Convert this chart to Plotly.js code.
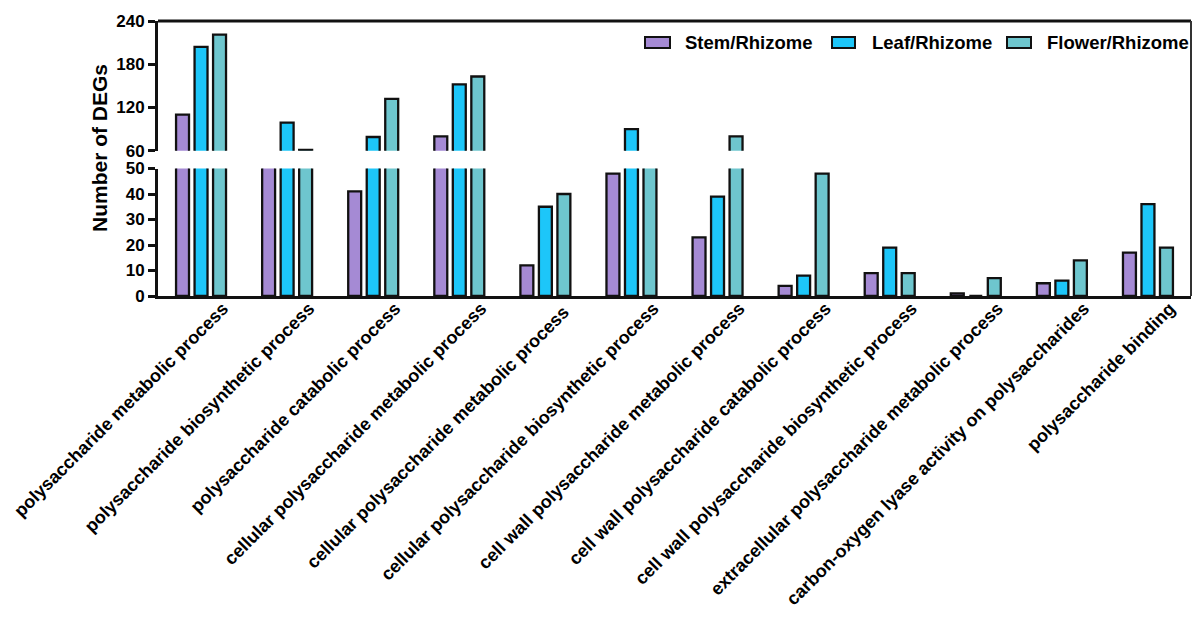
<!DOCTYPE html>
<html>
<head>
<meta charset="utf-8">
<script src="https://cdn.plot.ly/plotly-3.0.1.min.js"></script>
<style>html,body{margin:0;padding:0;background:#fff;}#chart{width:1193px;height:619px;}</style>
</head>
<body>
<div id="chart"></div>
<script>
const categories = [
  "polysaccharide metabolic process",
  "polysaccharide biosynthetic process",
  "polysaccharide catabolic process",
  "cellular polysaccharide metabolic process",
  "cellular polysaccharide metabolic process ",
  "cellular polysaccharide biosynthetic process",
  "cell wall polysaccharide metabolic process",
  "cell wall polysaccharide catabolic process",
  "cell wall polysaccharide biosynthetic process",
  "extracellular polysaccharide metabolic process",
  "carbon-oxygen lyase activity on polysaccharides",
  "polysaccharide binding"
];
const seriesNames = ["Stem/Rhizome", "Leaf/Rhizome", "Flower/Rhizome"];
const stem   = [110, 55, 41, 80, 12, 48, 23, 4, 9, 1, 5, 17];
const leaf   = [204, 99, 79, 152, 35, 90, 39, 8, 19, 0, 6, 36];
const flower = [221, 61, 132, 163, 40, 55, 80, 48, 9, 7, 14, 19];
const lowerTicks = [0, 10, 20, 30, 40, 50];
const upperTicks = [60, 120, 180, 240];
const yTitle = "Number of DEGs";

const colors = ["#a58ad4", "#1dc6f9", "#6ec6ce"];
const seriesValues = [stem, leaf, flower];

const W = 1193, H = 619;
const mL = 158, mR = 2, mT = 21, mB = 323;
const pw = W - mL - mR, ph = H - mT - mB;
const px2x = p => (p - mL) / pw;
const px2y = p => (H - mB - p) / ph;

const lowerTop = px2y(168.5);
const upperBottom = px2y(150.7);

const traces = [];
seriesValues.forEach((vals, i) => {
  ["y", "y2"].forEach(ya => {
    traces.push({
      type: "bar",
      name: seriesNames[i],
      x: categories,
      y: vals,
      xaxis: "x",
      yaxis: ya,
      showlegend: false,
      marker: {color: colors[i], line: {color: "#111", width: 2.3}},
      hoverinfo: "x+y+name"
    });
  });
});

const FAM = "Liberation Sans, Arial, sans-serif";
const tickFont = {family: FAM, size: 17, color: "#000", weight: "bold"};

const legendSym = [[645, 670], [832, 855], [1007, 1031]];
const legendText = [683, 870, 1045];
const shapes = [
  {type: "line", xref: "paper", yref: "paper", x0: 0, x1: 1, y0: 1, y1: 1, line: {color: "#111", width: 3}},
  {type: "line", xref: "paper", yref: "paper", x0: 1, x1: 1, y0: 0, y1: 1, line: {color: "#333", width: 2}}
];
const annotations = [{
  text: yTitle, xref: "paper", yref: "paper", x: px2x(99), y: px2y(148),
  textangle: -90, showarrow: false, xanchor: "center", yanchor: "middle",
  font: {family: FAM, size: 21, color: "#000", weight: "bold"}
}];
seriesNames.forEach((n, i) => {
  shapes.push({type: "rect", xref: "paper", yref: "paper",
    x0: px2x(legendSym[i][0]), x1: px2x(legendSym[i][1]), y0: px2y(48), y1: px2y(37),
    fillcolor: colors[i], line: {color: "#111", width: 2}});
  annotations.push({text: n, xref: "paper", yref: "paper", x: px2x(legendText[i]), y: px2y(42),
    xanchor: "left", yanchor: "middle", showarrow: false,
    font: {family: FAM, size: 18.5, color: "#000", weight: "bold"}});
});

const layout = {
  width: W, height: H,
  margin: {l: mL, r: mR, t: mT, b: mB, pad: 0},
  paper_bgcolor: "#fff", plot_bgcolor: "#fff",
  barmode: "group", bargap: 0.355, bargroupgap: 0.3,
  showlegend: false,
  xaxis: {
    domain: [0, 1], anchor: "y", type: "category",
    showline: true, linecolor: "#111", linewidth: 3,
    ticks: "", tickangle: -45, automargin: false,
    ticklabelstandoff: -8, ticklabelshift: 22,
    tickfont: {family: FAM, size: 18, color: "#000", weight: "bold"},
    showgrid: false, zeroline: false, fixedrange: true
  },
  yaxis: {
    domain: [0, lowerTop], anchor: "x", range: [0, 50],
    tickvals: lowerTicks, ticktext: lowerTicks.map(String),
    showline: true, linecolor: "#111", linewidth: 3,
    ticks: "outside", ticklen: 7, tickwidth: 3, tickcolor: "#111",
    ticklabelstandoff: 0,
    tickfont: tickFont, showgrid: false, zeroline: false, automargin: false, fixedrange: true
  },
  yaxis2: {
    domain: [upperBottom, 1], anchor: "x", range: [60, 240],
    tickvals: upperTicks, ticktext: upperTicks.map(String),
    showline: true, linecolor: "#111", linewidth: 3,
    ticks: "outside", ticklen: 7, tickwidth: 3, tickcolor: "#111",
    ticklabelstandoff: 0,
    tickfont: tickFont, showgrid: false, zeroline: false, automargin: false, fixedrange: true
  },
  shapes: shapes,
  annotations: annotations
};

Plotly.newPlot("chart", traces, layout, {displayModeBar: false, staticPlot: true});
</script>
</body>
</html>
